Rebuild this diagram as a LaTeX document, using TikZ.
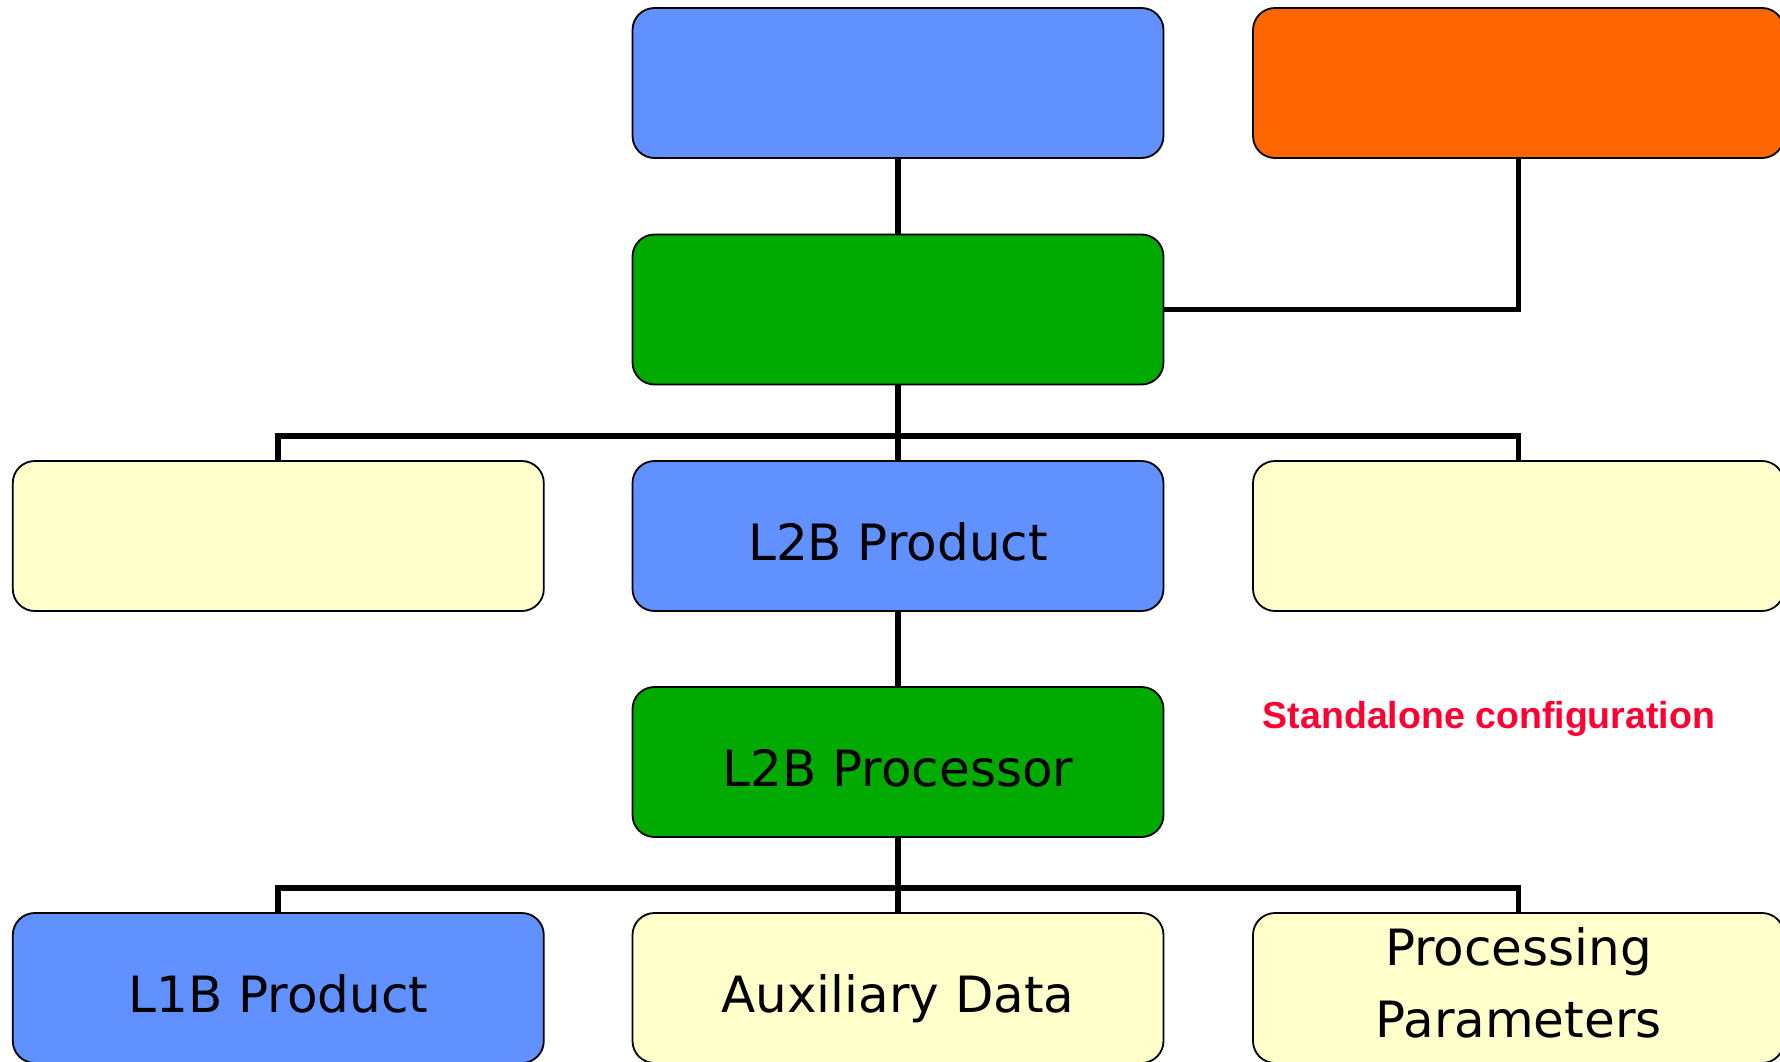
\documentclass[tikz,border=0pt]{standalone}
\usepackage{fontspec}
\setmainfont{DejaVu Sans}
\newfontfamily\notefont{Liberation Sans}
\definecolor{boxblue}{RGB}{97,144,255}
\definecolor{boxgreen}{RGB}{0,170,0}
\definecolor{boxorange}{RGB}{255,102,0}
\definecolor{boxyellow}{RGB}{255,255,204}
\definecolor{notered}{RGB}{255,0,51}
\begin{document}
\begin{tikzpicture}[x=1pt,y=-1pt,
  box/.style={draw=black, line width=1.8pt, rounded corners=22pt,
    minimum width=531pt, minimum height=150pt, inner sep=0pt, outer sep=0pt,
    font=\fontsize{50}{60}\selectfont, text height=48pt, text depth=0pt},
  wire/.style={draw=black, line width=5.8pt, line join=miter},
  note/.style={font=\notefont\bfseries\fontsize{37.5}{44}\selectfont, text=notered, anchor=base, inner sep=0pt}]
\useasboundingbox (0,0) rectangle (1780,1062);
\fill[white] (0,0) rectangle (1780,1062);
% boxes
\node[box, fill=boxblue]   (top)  at (898,83) {};
\node[box, fill=boxorange] (ext)  at (1518.5,83) {};
\node[box, fill=boxgreen]  (gp)   at (898,309.5) {};
\node[box, fill=boxyellow] (ya)   at (278.3,536) {};
\node[box, fill=boxblue]   (l2b)  at (898,536) {L2B Product};
\node[box, fill=boxyellow] (yb)   at (1518.5,536) {};
\node[box, fill=boxgreen]  (proc) at (898,762) {L2B Processor};
\node[box, fill=boxblue]   (l1b)  at (278.3,988) {L1B Product};
\node[box, fill=boxyellow] (aux)  at (898,988) {Auxiliary Data};
\node[box, fill=boxyellow] (par)  at (1518.5,988) {};
\node[font=\fontsize{50}{72.4}\selectfont, align=center, inner sep=0pt] (partext)
  at ([yshift=5pt]par.center) {Processing\\Parameters};
% connectors
\coordinate (bus1) at (898,436);
\coordinate (bus2) at (898,888);
\draw[wire] (top.south) -- (gp.north);
\draw[wire] (ext.south) |- (gp.east);
\draw[wire] (gp.south) -- (l2b.north);
\draw[wire] (ya.north) |- (bus1) -| (yb.north);
\draw[wire] (l2b.south) -- (proc.north);
\draw[wire] (proc.south) -- (aux.north);
\draw[wire] (l1b.north) |- (bus2) -| (par.north);
% note
\node[note] (cfg) at (1489,728) {Standalone configuration};
\end{tikzpicture}
\end{document}
